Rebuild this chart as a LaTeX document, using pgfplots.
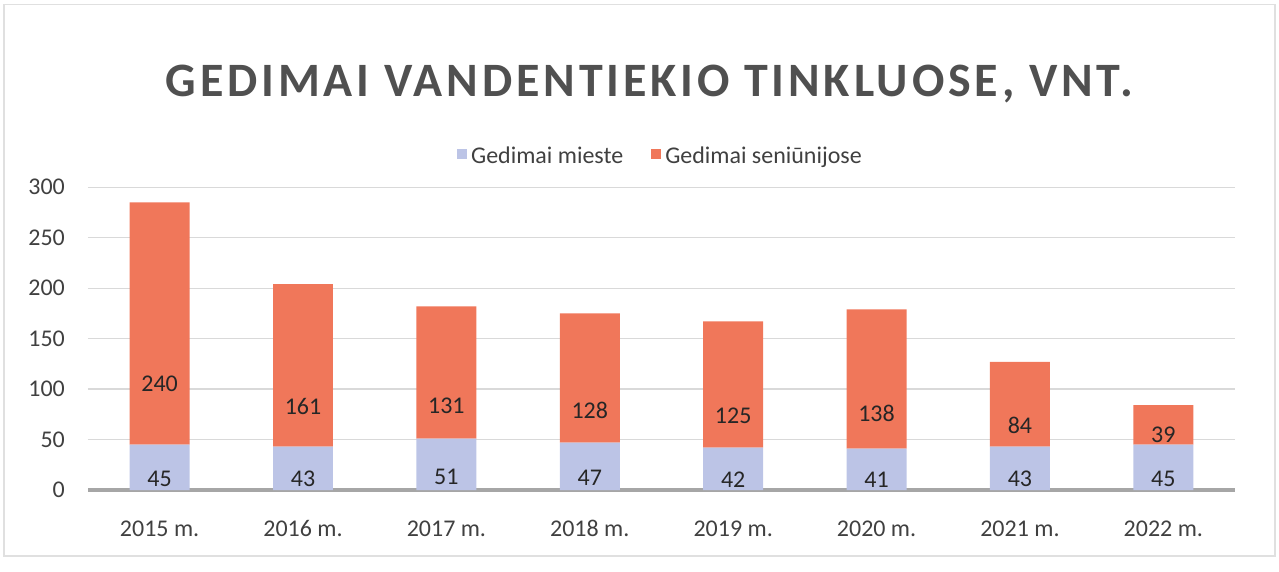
\documentclass[border=0pt]{standalone}
\usepackage{pgfplots}
\pgfplotsset{compat=1.18}
\usepackage{fontspec}
\setmainfont{Carlito}
\newfontfamily\titlefont[LetterSpace=8]{Carlito}
\definecolor{cblue}{HTML}{BCC4E6}
\definecolor{corange}{HTML}{F0775A}
\definecolor{ctext}{HTML}{404040}
\definecolor{ctitle}{HTML}{505050}
\begin{document}
\begin{tikzpicture}
\path[use as bounding box] (0,0) rectangle (640pt,286.2pt);
\draw[color=black!12, line width=0.6pt] (2pt,8pt) rectangle (638pt,284pt);
\node[font=\titlefont\fontsize{24}{28}\selectfont\bfseries, text=ctitle] at (325pt,244pt) {GEDIMAI VANDENTIEKIO TINKLUOSE, VNT.};
\begin{axis}[
  at={(44pt,41pt)}, anchor=south west,
  scale only axis, width=574pt, height=151.5pt,
  ybar stacked, bar width=30pt,
  xmin=-0.5, xmax=7.5, ymin=0, ymax=300,
  xtick={0,...,7},
  xticklabels={2015 m.,2016 m.,2017 m.,2018 m.,2019 m.,2020 m.,2021 m.,2022 m.},
  ytick={0,50,...,300},
  /pgf/number format/assume math mode=true,
  ymajorgrids, grid style={color=black!15, line width=0.6pt},
  axis x line*=bottom,
  axis y line*=left,
  y axis line style={draw=none},
  x axis line style={color=black!35, line width=1.6pt, -},
  major tick length=0pt,
  tick label style={font=\fontsize{12}{14}\selectfont, text=ctext},
  xticklabel style={yshift=-12pt, text height=1.6ex, text depth=0.3ex},
  yticklabel style={xshift=-8pt},
  legend style={at={(0.5,1)}, anchor=south, yshift=6pt, draw=none, fill=none,
    legend columns=2, font=\fontsize{12}{14}\selectfont, text=ctext,
    /tikz/every even column/.append style={column sep=12pt}},
  legend image code/.code={\fill[#1] (0pt,-1pt) rectangle (5pt,4pt);},
  nodes near coords,
  point meta=explicit,
  every node near coord/.append style={font=\fontsize{12}{14}\selectfont, text=black!85, anchor=center, shift={(axis direction cs:0,-\myval/4)}},
  visualization depends on={\thisrow{v} \as \myval},
]
\addplot[fill=cblue, draw=none] table[x=x, y=v, meta=v] {
x v
0 45
1 43
2 51
3 47
4 42
5 41
6 43
7 45
};
\addplot[fill=corange, draw=none] table[x=x, y=v, meta=v] {
x v
0 240
1 161
2 131
3 128
4 125
5 138
6 84
7 39
};
\legend{Gedimai mieste, Gedimai seniūnijose}
\end{axis}
\end{tikzpicture}
\end{document}
